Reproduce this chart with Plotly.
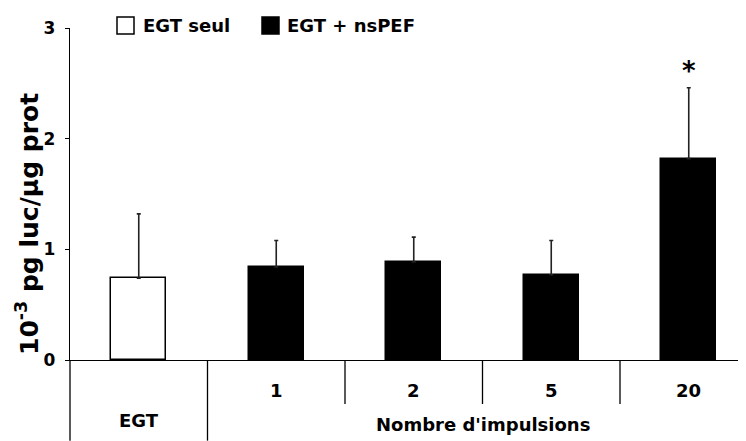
import plotly.graph_objects as go

# Data
control_label = "EGT"
control_value = [0.74]
control_err_top = [1.32]

pulse_labels = ["1", "2", "5", "20"]
pulse_values = [0.84, 0.885, 0.77, 1.82]
pulse_err_top = [1.08, 1.11, 1.08, 2.46]

legend_labels = ["EGT seul", "EGT + nsPEF"]
group_label = "Nombre d'impulsions"
y_title = "10<sup>-3</sup> pg luc/µg prot"
y_ticks = [0, 1, 2, 3]
star_index = 3

FONT = "DejaVu Sans"
OFF = 8  # page body margin
W, H = 738, 433
ML, MR, MT, MB = 62, 0, 20, 81

x_ctrl = [0]
x_pulse = list(range(1, len(pulse_labels) + 1))

fig = go.Figure()
fig.add_trace(go.Bar(
    x=x_ctrl, y=control_value, width=0.4,
    marker=dict(color="white", line=dict(color="black", width=1.5)),
    error_y=dict(type="data", symmetric=False,
                 array=[t - v for t, v in zip(control_err_top, control_value)],
                 arrayminus=[0], color="#222", thickness=1.6, width=2),
    showlegend=False, name=legend_labels[0]))
fig.add_trace(go.Bar(
    x=x_pulse, y=pulse_values, width=0.4,
    marker=dict(color="black", line=dict(color="black", width=1.5)),
    error_y=dict(type="data", symmetric=False,
                 array=[t - v for t, v in zip(pulse_err_top, pulse_values)],
                 arrayminus=[0] * len(pulse_values), color="#222", thickness=1.6, width=2),
    showlegend=False, name=legend_labels[1]))

plot_w = W - ML - MR
plot_h = H - MT - MB
def px_x(p):
    return (p - OFF - ML) / plot_w
def px_y(p):
    return (OFF + H - MB - p) / plot_h

bottom = px_y(441) + 0.001
shapes = []
# y-axis extension below zero
shapes.append(dict(type="line", xref="paper", yref="paper", x0=0, x1=0,
                   y0=0, y1=bottom, line=dict(color="black", width=1.3)))
# dividers
for i, xd in enumerate([0.5, 1.5, 2.5, 3.5]):
    yb = bottom if i == 0 else px_y(404)
    shapes.append(dict(type="line", xref="x", yref="paper", x0=xd, x1=xd,
                       y0=0, y1=yb, line=dict(color="black", width=1.3)))
# legend squares
shapes.append(dict(type="rect", xref="paper", yref="paper",
                   x0=px_x(117), x1=px_x(134), y0=px_y(34), y1=px_y(17),
                   fillcolor="white", line=dict(color="black", width=1.5)))
shapes.append(dict(type="rect", xref="paper", yref="paper",
                   x0=px_x(262), x1=px_x(279), y0=px_y(34), y1=px_y(17),
                   fillcolor="black", line=dict(color="black", width=1.5)))

bold = dict(family=FONT, size=18, color="black", weight="bold")
ann = []
ann.append(dict(text=legend_labels[0], xref="paper", yref="paper", x=px_x(141), y=px_y(25.5),
                xanchor="left", yanchor="middle", showarrow=False, font=bold))
ann.append(dict(text=legend_labels[1], xref="paper", yref="paper", x=px_x(285), y=px_y(25.5),
                xanchor="left", yanchor="middle", showarrow=False, font=bold))
ann.append(dict(text=control_label, xref="x", yref="paper", x=0, y=px_y(420),
                xanchor="center", yanchor="middle", showarrow=False, font=bold))
for xi, lab in zip(x_pulse, pulse_labels):
    ann.append(dict(text=lab, xref="x", yref="paper", x=xi, y=px_y(390),
                    xanchor="center", yanchor="middle", showarrow=False, font=bold))
ann.append(dict(text=group_label, xref="x", yref="paper", x=2.5, y=px_y(424),
                xanchor="center", yanchor="middle", showarrow=False, font=bold))
ann.append(dict(text=y_title, xref="paper", yref="paper", x=px_x(27), y=px_y(224),
                xanchor="center", yanchor="middle", textangle=-90, showarrow=False,
                font=dict(family=FONT, size=25, color="black", weight="bold")))
ann.append(dict(text="*", xref="x", yref="y", x=x_pulse[star_index], y=pulse_err_top[star_index],
                xanchor="center", yanchor="bottom", yshift=0, showarrow=False,
                font=dict(family=FONT, size=26, color="black", weight="bold")))

fig.update_layout(
    width=W, height=H,
    margin=dict(l=ML, r=MR, t=MT, b=MB, pad=0),
    paper_bgcolor="white", plot_bgcolor="white",
    shapes=shapes, annotations=ann,
    xaxis=dict(range=[-0.5, -0.5 + plot_w / 137.5], showgrid=False, zeroline=False,
               showticklabels=False, ticks="", showline=True, linecolor="black", linewidth=1.3,
               fixedrange=True),
    yaxis=dict(range=[0, 3], tickvals=y_ticks, showgrid=False, zeroline=False,
               showline=True, linecolor="black", linewidth=1.3, ticks="outside",
               ticklen=4, tickcolor="black", tickwidth=1.3,
               tickfont=dict(family=FONT, size=17, color="black", weight="bold"),
               ticklabelstandoff=6),
    bargap=0, showlegend=False,
)

fig.write_html("out.html")
